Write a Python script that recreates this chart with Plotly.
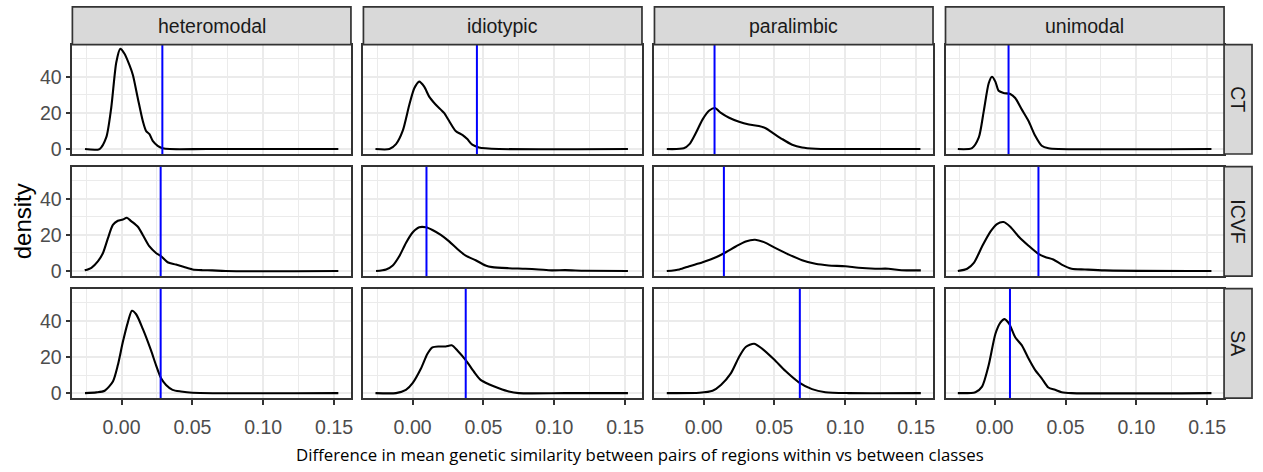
import plotly.graph_objects as go

# ---------------- data ----------------
classes = ["heteromodal", "idiotypic", "paralimbic", "unimodal"]
measures = ["CT", "ICVF", "SA"]
x_tick_vals = [0.00, 0.05, 0.10, 0.15]
x_tick_labels = ["0.00", "0.05", "0.10", "0.15"]
x_minor_vals = [-0.025, 0.025, 0.075, 0.125]
y_tick_vals = [0, 20, 40]
y_tick_labels = ["0", "20", "40"]
y_minor_vals = [10, 30, 50]

# observed differences (blue vertical lines), order = classes
observed_CT = [0.0288, 0.0454, 0.0077, 0.0098]
observed_ICVF = [0.0276, 0.0098, 0.0143, 0.0309]
observed_SA = [0.0276, 0.0375, 0.0679, 0.0108]

# null-distribution densities
heteromodal_CT_x = [-0.0258, -0.0155, -0.0108, -0.0073, -0.0037, -0.0009, 0.0021, 0.0056, 0.008, 0.0115, 0.015, 0.0173, 0.0197, 0.022, 0.0255, 0.029, 0.034, 0.06, 0.153]
heteromodal_CT_y = [0, 0, 6.4, 22.7, 48, 55.4, 52.7, 46.4, 41, 28, 15.5, 10, 8.2, 4.5, 1.8, 0.5, 0, 0, 0]

idiotypic_CT_x = [-0.0262, -0.0164, -0.0117, -0.007, -0.0023, 0.0012, 0.0047, 0.0082, 0.0117, 0.0164, 0.0222, 0.0258, 0.0304, 0.0351, 0.0386, 0.0421, 0.0468, 0.0515, 0.061, 0.152]
idiotypic_CT_y = [0, 0, 2.7, 10, 24.5, 33.6, 37.3, 34.5, 29, 24.5, 20, 15.5, 10, 7.8, 5.5, 2.4, 0.9, 0.4, 0, 0]

paralimbic_CT_x = [-0.026, -0.014, -0.010, -0.0054, -0.0007, 0.004, 0.008, 0.0122, 0.018, 0.025, 0.032, 0.039, 0.0438, 0.0485, 0.0555, 0.0625, 0.0695, 0.079, 0.088, 0.153]
paralimbic_CT_y = [0, 0.4, 2.7, 9, 16.4, 21.3, 22.7, 20, 17.3, 15.1, 13.6, 12.7, 11.5, 9.1, 5.5, 2.4, 0.9, 0.2, 0, 0]

unimodal_CT_x = [-0.026, -0.016, -0.0112, -0.0077, -0.0042, -0.0019, 0.0005, 0.0028, 0.0063, 0.011, 0.0145, 0.0192, 0.0239, 0.0286, 0.0332, 0.038, 0.045, 0.153]
unimodal_CT_y = [0, 0.5, 6.4, 21, 36.4, 40, 37.3, 32.2, 31, 30.4, 28.2, 21.8, 15.5, 7.3, 1.8, 0.4, 0, 0]

heteromodal_ICVF_x = [-0.026, -0.0213, -0.0166, -0.0131, -0.0096, -0.0061, -0.0026, 0.0009, 0.0037, 0.0068, 0.0115, 0.015, 0.0197, 0.0243, 0.0279, 0.0325, 0.0384, 0.0442, 0.0501, 0.0571, 0.064, 0.0735, 0.153]
heteromodal_ICVF_y = [0.4, 1.8, 5.5, 10, 18.2, 25.5, 27.8, 28.5, 29.5, 27.6, 24.5, 20, 13.6, 10, 8.2, 4.9, 3.6, 2.2, 0.9, 0.5, 0.4, 0, 0]

idiotypic_ICVF_x = [-0.0258, -0.0187, -0.014, -0.0094, -0.0047, 0.0, 0.0047, 0.0094, 0.014, 0.0199, 0.0258, 0.0316, 0.0375, 0.0445, 0.0515, 0.0562, 0.0679, 0.0796, 0.089, 0.0983, 0.1077, 0.1217, 0.152]
idiotypic_ICVF_y = [0, 0.9, 3.1, 8.2, 15.5, 21.3, 24.2, 24.2, 22.7, 20, 16.4, 12.2, 8.5, 6, 3.1, 2.2, 1.6, 1.3, 0.9, 0.4, 0.5, 0.2, 0]

paralimbic_ICVF_x = [-0.026, -0.0171, -0.0101, -0.0007, 0.0087, 0.0157, 0.0227, 0.0297, 0.0363, 0.0426, 0.0508, 0.0602, 0.0695, 0.0789, 0.0882, 0.1, 0.1093, 0.121, 0.1304, 0.1397, 0.1533]
paralimbic_ICVF_y = [0, 0.9, 2.7, 4.9, 7.6, 10.4, 13.6, 16.4, 17.3, 16, 12.7, 9.1, 6, 4, 3.1, 2.7, 1.8, 1.3, 1.3, 0.5, 0.4]

unimodal_ICVF_x = [-0.026, -0.0194, -0.0147, -0.0089, -0.003, 0.0016, 0.0063, 0.011, 0.0169, 0.0239, 0.0309, 0.0356, 0.0414, 0.0473, 0.0543, 0.0637, 0.0777, 0.153]
unimodal_ICVF_y = [0, 1.3, 4.5, 13.6, 21.8, 26, 27.1, 24.5, 19.1, 14, 9.5, 7.8, 6.4, 3.6, 1.3, 0.9, 0.4, 0]

heteromodal_SA_x = [-0.0258, -0.0178, -0.0119, -0.0061, -0.0026, 0.0009, 0.0044, 0.0073, 0.0103, 0.015, 0.0208, 0.0243, 0.0279, 0.0314, 0.036, 0.0419, 0.05, 0.153]
heteromodal_SA_y = [0, 0.4, 1.3, 6.4, 15.5, 28.2, 39, 45.5, 43.6, 35.5, 23.6, 15.5, 8.2, 4.5, 1.8, 0.9, 0.2, 0]

idiotypic_SA_x = [-0.0262, -0.0117, -0.0047, 0.0, 0.0059, 0.0105, 0.014, 0.0187, 0.0234, 0.0276, 0.0316, 0.0375, 0.0433, 0.048, 0.0538, 0.0609, 0.0679, 0.0749, 0.1077, 0.152]
idiotypic_SA_y = [0, 0, 1.8, 5.5, 13.6, 21.8, 25.3, 25.8, 25.8, 26.4, 23.6, 18.2, 11.8, 7.3, 4.9, 2.7, 0.9, 0, 0, 0]

paralimbic_SA_x = [-0.026, -0.003, 0.0063, 0.0122, 0.0192, 0.025, 0.0297, 0.0356, 0.0414, 0.0496, 0.0578, 0.0672, 0.0765, 0.0859, 0.1023, 0.1533]
paralimbic_SA_y = [0, 0.2, 1.3, 4.5, 10.9, 20, 25.5, 27.3, 24.5, 18.7, 12.2, 6, 2.2, 0.5, 0, 0]

unimodal_SA_x = [-0.026, -0.0136, -0.0089, -0.0042, 0.0005, 0.004, 0.007, 0.0103, 0.0145, 0.0192, 0.0239, 0.0286, 0.0332, 0.0379, 0.0426, 0.0473, 0.0543, 0.153]
unimodal_SA_y = [0, 0.5, 3.6, 15.5, 32.7, 39, 40.9, 38.2, 30.9, 26.4, 19.1, 12.7, 8.2, 3.1, 1.8, 0.5, 0, 0]

curves = {
    ("CT", 0): (heteromodal_CT_x, heteromodal_CT_y),
    ("CT", 1): (idiotypic_CT_x, idiotypic_CT_y),
    ("CT", 2): (paralimbic_CT_x, paralimbic_CT_y),
    ("CT", 3): (unimodal_CT_x, unimodal_CT_y),
    ("ICVF", 0): (heteromodal_ICVF_x, heteromodal_ICVF_y),
    ("ICVF", 1): (idiotypic_ICVF_x, idiotypic_ICVF_y),
    ("ICVF", 2): (paralimbic_ICVF_x, paralimbic_ICVF_y),
    ("ICVF", 3): (unimodal_ICVF_x, unimodal_ICVF_y),
    ("SA", 0): (heteromodal_SA_x, heteromodal_SA_y),
    ("SA", 1): (idiotypic_SA_x, idiotypic_SA_y),
    ("SA", 2): (paralimbic_SA_x, paralimbic_SA_y),
    ("SA", 3): (unimodal_SA_x, unimodal_SA_y),
}
observed = {"CT": observed_CT, "ICVF": observed_ICVF, "SA": observed_SA}

# ---------------- layout geometry (pixels) ----------------
W, H = 1263, 472
col_left = [72.5, 364.0, 655.5, 947.0]
col_w = 279.0
row_top = [45.2, 168.8, 292.4]
row_h = 110.8
strip_top = 7.0
strip_right_w = 28.0

X_RANGE = [-0.0347, 0.1619]
Y_RANGE = [-2.75, 57.75]

BORDER = "#333333"
GRID = "#EBEBEB"
TICKFONT = dict(family="Liberation Sans", size=19.5, color="#4D4D4D")
STRIPFONT = dict(family="Liberation Sans", size=19.5, color="#1A1A1A")


def px_x(p):
    return p / W


def px_y(p):
    return 1 - p / H


fig = go.Figure()
layout = {}
shapes = []
annotations = []

for r, m in enumerate(measures):
    for c, cls in enumerate(classes):
        k = r * 4 + c + 1
        sfx = "" if k == 1 else str(k)
        xa = f"x{sfx}"
        ya = f"y{sfx}"
        xs, ys = curves[(m, c)]
        fig.add_trace(go.Scatter(
            x=xs, y=ys, mode="lines",
            line=dict(color="black", width=2.1, shape="spline", smoothing=0.7),
            xaxis=xa, yaxis=ya, showlegend=False, hoverinfo="skip",
        ))
        bottom = (r == len(measures) - 1)
        left = (c == 0)
        layout[f"xaxis{sfx}"] = dict(
            domain=[px_x(col_left[c]), px_x(col_left[c] + col_w)],
            range=X_RANGE, anchor=ya,
            tickvals=x_tick_vals, ticktext=x_tick_labels,
            showticklabels=bottom, ticks="outside" if bottom else "",
            ticklen=5, tickwidth=1.5, tickcolor=BORDER, tickfont=TICKFONT,
            ticklabelstandoff=6,
            showgrid=True, gridcolor=GRID, gridwidth=2,
            minor=dict(tickvals=x_minor_vals, showgrid=True, gridcolor=GRID, gridwidth=1.1, ticks=""),
            showline=True, mirror=True, linecolor=BORDER, linewidth=1.7,
            zeroline=False, fixedrange=True,
        )
        layout[f"yaxis{sfx}"] = dict(
            domain=[px_y(row_top[r] + row_h), px_y(row_top[r])],
            range=Y_RANGE, anchor=xa,
            tickvals=y_tick_vals, ticktext=y_tick_labels,
            showticklabels=left, ticks="outside" if left else "",
            ticklen=5, tickwidth=1.5, tickcolor=BORDER, tickfont=TICKFONT,
            showgrid=True, gridcolor=GRID, gridwidth=2,
            minor=dict(tickvals=y_minor_vals, showgrid=True, gridcolor=GRID, gridwidth=1.1, ticks=""),
            showline=True, mirror=True, linecolor=BORDER, linewidth=1.7,
            zeroline=False, fixedrange=True,
        )
        # observed value line
        shapes.append(dict(
            type="line", xref=xa, yref=f"{ya} domain",
            x0=observed[m][c], x1=observed[m][c], y0=0, y1=1,
            line=dict(color="#0000FF", width=2),
        ))

# top strips
for c, cls in enumerate(classes):
    x0, x1 = col_left[c], col_left[c] + col_w
    shapes.append(dict(type="rect", xref="paper", yref="paper",
                       x0=px_x(x0), x1=px_x(x1), y0=px_y(row_top[0]), y1=px_y(strip_top),
                       fillcolor="#D9D9D9", line=dict(color=BORDER, width=1.7), layer="above"))
    annotations.append(dict(text=cls, xref="paper", yref="paper",
                            x=px_x((x0 + x1) / 2), y=px_y((strip_top + row_top[0]) / 2),
                            showarrow=False, font=STRIPFONT, xanchor="center", yanchor="middle"))

# right strips
rx0 = col_left[3] + col_w
rx1 = rx0 + strip_right_w
for r, m in enumerate(measures):
    y0, y1 = row_top[r], row_top[r] + row_h
    shapes.append(dict(type="rect", xref="paper", yref="paper",
                       x0=px_x(rx0), x1=px_x(rx1), y0=px_y(y1), y1=px_y(y0),
                       fillcolor="#D9D9D9", line=dict(color=BORDER, width=1.7), layer="above"))
    annotations.append(dict(text=m, xref="paper", yref="paper",
                            x=px_x((rx0 + rx1) / 2), y=px_y((y0 + y1) / 2),
                            showarrow=False, font=STRIPFONT, textangle=90,
                            xanchor="center", yanchor="middle"))

# axis titles
annotations.append(dict(text="density", xref="paper", yref="paper",
                        x=px_x(22), y=px_y((row_top[0] + row_top[2] + row_h) / 2),
                        showarrow=False, textangle=-90,
                        font=dict(family="Liberation Sans", size=24, color="black"),
                        xanchor="center", yanchor="middle"))
annotations.append(dict(text="Difference in mean genetic similarity between pairs of regions within vs between classes",
                        xref="paper", yref="paper", x=px_x(641), y=px_y(460),
                        showarrow=False, font=dict(family="Open Sans", size=16.8, color="black"),
                        xanchor="center", yanchor="middle"))

fig.update_layout(
    width=W, height=H, autosize=False,
    margin=dict(l=0, r=0, t=0, b=0),
    paper_bgcolor="white", plot_bgcolor="white",
    shapes=shapes, annotations=annotations,
    **layout,
)

fig.write_html("out.html", config={"displayModeBar": False})
